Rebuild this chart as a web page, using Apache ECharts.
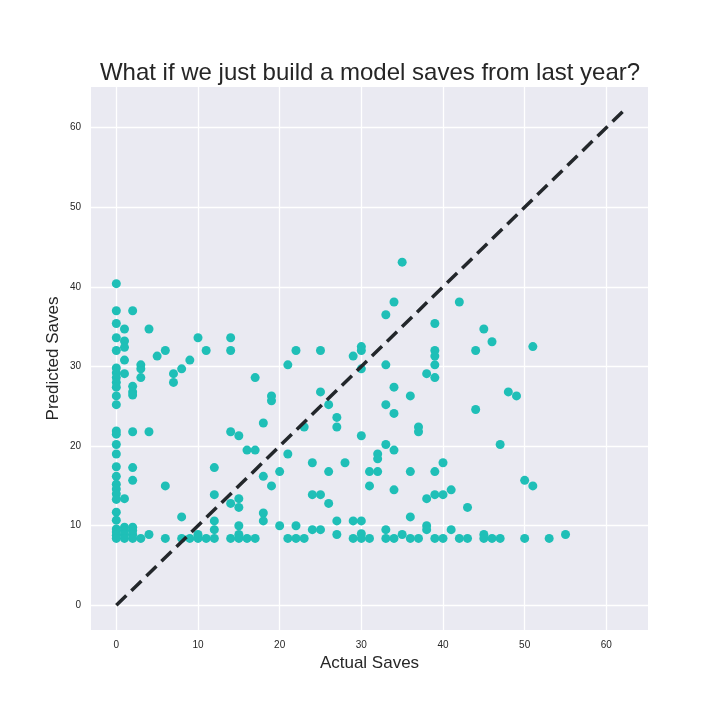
<!DOCTYPE html>
<html>
<head>
<meta charset="utf-8">
<script src="https://cdn.jsdelivr.net/npm/echarts@6/dist/echarts.min.js"></script>
<style>
  html, body { margin: 0; padding: 0; background: #fff; }
  #chart { width: 720px; height: 720px; }
</style>
</head>
<body>
<div id="chart"></div>
<script>
(function () {
  // actual saves (x) and the predicted values, column by column
  var actualSaves = [
    0,0,0,0,0,0,0,0,0,0,0,0,0,0,0,0,0,0,0,0,0,0,0,0,0,0,0,0,
    1,1,1,1,1,1,1,1,1,1,
    2,2,2,2,2,2,2,2,2,2,2,
    3,3,3,3, 4,4,4, 5, 6,6,6, 7,7, 8,8,8, 9,9, 10,10,10, 11,11,
    12,12,12,12,12, 14,14,14,14,14, 15,15,15,15,15,15, 16,16,
    17,17,17, 18,18,18,18, 19,19,19, 20,20, 21,21,21, 22,22,22,
    23,23, 24,24,24, 25,25,25,25, 26,26,26, 27,27,27,27, 28,
    29,29,29, 30,30,30,30,30,30,30, 31,31,31, 32,32,32,
    33,33,33,33,33,33, 34,34,34,34,34,34, 35,35, 36,36,36,36,
    37,37,37, 38,38,38,38, 39,39,39,39,39,39,39,39, 40,40,40,
    41,41, 42,42, 43,43, 44,44, 45,45,45, 46,46, 47,47, 48, 49,
    50,50, 51,51, 53, 55
  ];
  var predictedSaves = [
    40.4,37.0,35.4,33.6,32.0,29.8,29.2,28.6,28.0,27.4,26.3,25.2,21.9,21.5,20.2,19.0,17.4,16.2,15.2,14.6,14.0,13.3,11.7,10.7,9.6,9.2,8.8,8.4,
    34.7,33.2,32.4,30.8,29.1,13.4,9.8,9.4,8.9,8.4,
    37.0,27.5,26.8,26.4,21.8,17.3,15.7,9.8,9.4,8.9,8.4,
    30.2,29.7,28.6,8.4, 34.7,21.8,8.9, 31.3, 32.0,15.0,8.4, 29.1,28.0, 29.7,11.1,8.4, 30.8,8.4, 33.6,8.9,8.4, 32.0,8.4,
    17.3,13.9,10.6,9.5,8.4, 33.6,32.0,21.8,12.8,8.4, 21.3,13.4,12.3,10.0,8.9,8.4, 19.5,8.4,
    28.6,19.5,8.4, 22.9,16.2,11.6,10.6, 26.3,25.7,15.0, 16.8,10.0, 30.2,19.0,8.4, 32.0,10.0,8.4,
    22.4,8.4, 17.9,13.9,9.5, 32.0,26.8,13.9,9.5, 25.2,16.8,12.8, 23.6,22.4,10.6,8.9, 17.9,
    31.3,10.6,8.4, 32.5,32.0,29.7,21.3,10.6,9.0,8.4, 16.8,15.0,8.4, 19.0,18.4,16.8,
    36.5,30.2,25.2,20.2,9.5,8.4, 38.1,27.4,24.1,19.5,14.5,8.4, 43.1,8.9, 26.3,16.8,11.1,8.4,
    22.4,21.8,8.4, 29.1,13.4,10.0,9.5, 35.4,32.0,31.3,30.2,28.6,16.8,13.9,8.4, 17.9,13.9,8.4,
    14.5,9.5, 38.1,8.4, 12.3,8.4, 32.0,24.6, 34.7,8.9,8.4, 33.1,8.4, 20.2,8.4, 26.8, 26.3,
    15.7,8.4, 32.5,15.0, 8.4, 8.9
  ];
  var perfectLine = [0, 62];
  var tickValues = [0, 10, 20, 30, 40, 50, 60];

  var points = actualSaves.map(function (x, i) { return [x, predictedSaves[i]]; });
  var diag = perfectLine.map(function (v) { return [v, v]; });

  var myChart = echarts.init(document.getElementById('chart'));
  var textColor = '#262626';

  function axis(name, gap) {
    return {
      type: 'value',
      min: -3.1,
      max: 65.1,
      name: name,
      nameLocation: 'middle',
      nameGap: gap,
      nameMoveOverlap: false,
      nameTextStyle: { color: textColor, fontSize: 17, fontFamily: 'Liberation Sans' },
      axisLine: { show: false },
      axisTick: { show: false, customValues: tickValues },
      axisLabel: {
        customValues: tickValues,
        color: textColor,
        fontSize: 10,
        fontFamily: 'Liberation Sans',
        margin: 10
      },
      splitLine: { show: true, lineStyle: { color: '#ffffff', width: 1.3 } }
    };
  }

  var option = {
    animation: false,
    backgroundColor: '#ffffff',
    title: {
      text: 'What if we just build a model saves from last year?',
      left: 365,
      top: 56,
      textAlign: 'center',
      textStyle: { color: textColor, fontSize: 24, fontWeight: 'normal', fontFamily: 'Liberation Sans' }
    },
    grid: {
      left: 91,
      right: 72,
      top: 87,
      bottom: 90,
      show: true,
      backgroundColor: '#eaeaf2',
      borderWidth: 0
    },
    xAxis: axis('Actual Saves', 25),
    yAxis: axis('Predicted Saves', 29),
    series: [
      {
        type: 'scatter',
        data: points,
        symbolSize: 9,
        itemStyle: { color: '#1fbfb7', opacity: 1 }
      },
      {
        type: 'line',
        data: diag,
        symbol: 'none',
        lineStyle: { color: '#23272b', width: 3.5, type: [14, 7], cap: 'butt' },
        z: 3
      }
    ]
  };
  myChart.setOption(option);
  window.addEventListener('resize', function () {
    myChart.resize();
  });
})();
</script>
</body>
</html>
